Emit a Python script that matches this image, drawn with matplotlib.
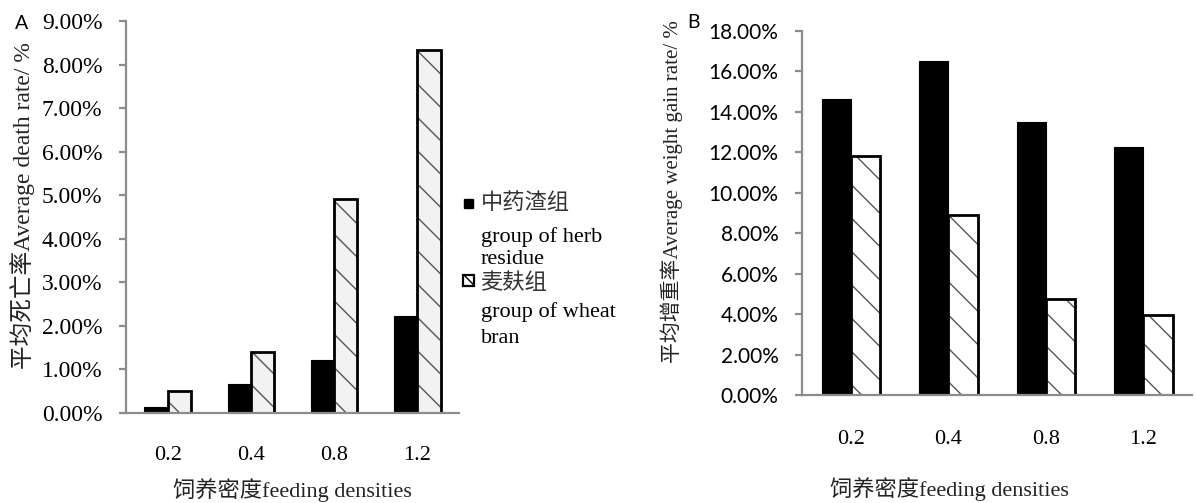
import numpy as np
import matplotlib
matplotlib.use("Agg")
import matplotlib.pyplot as plt
from matplotlib.ticker import FuncFormatter

SERIF = ["Liberation Serif", "Noto Sans CJK SC"]
SANS = ["Lato", "Noto Sans CJK SC"]

densities = ["0.2", "0.4", "0.8", "1.2"]

# average death rate (%), panel A
death_herb = [0.14, 0.67, 1.22, 2.23]
death_bran = [0.50, 1.41, 4.91, 8.33]

# average weight gain rate (%), panel B
gain_herb = [14.63, 16.50, 13.50, 12.24]
gain_bran = [11.80, 8.90, 4.75, 3.96]

herb_label = ["中药渣组", "group of herb", "residue"]
bran_label = ["麦麸组", "group of wheat", "bran"]

W, H = 1196, 503
fig = plt.figure(figsize=(W / 100, H / 100), dpi=100)


def px_axes(left, right, top, bottom):
    return fig.add_axes([left / W, 1 - bottom / H, (right - left) / W, (bottom - top) / H])


def draw_bars(ax, herb, bran, width, bran_fill, tick_pad):
    x = np.arange(len(densities))
    ax.bar(x - width / 2, herb, width, color="black", edgecolor="black", linewidth=0.8)
    # hatch drawn in grey, outline drawn separately in black
    ax.bar(x + width / 2, bran, width, color=bran_fill, edgecolor="#555555",
           linewidth=0, hatch="\\")
    ax.bar(x + width / 2, bran, width, color="none", edgecolor="black", linewidth=2)
    ax.set_xlim(-0.5, len(densities) - 0.5)
    ax.set_xticks(x)
    ax.set_xticklabels(densities, fontfamily=SERIF, fontsize=16)
    ax.tick_params(axis="x", length=0, pad=tick_pad)
    for side in ("top", "right"):
        ax.spines[side].set_visible(False)
    for side in ("left", "bottom"):
        ax.spines[side].set_color("#8c8c8c")
        ax.spines[side].set_linewidth(1.6)
    ax.tick_params(axis="y", length=5, width=1.6, color="#8c8c8c", direction="out")


pct = FuncFormatter(lambda v, p: f"{v:.2f}%")

# panel A
axA = px_axes(126, 459, 21, 413)
draw_bars(axA, death_herb, death_bran, 0.28, "#f2f2f2", 24)
axA.set_ylim(0, 9)
axA.set_yticks(np.arange(0, 10, 1))
axA.yaxis.set_major_formatter(pct)
for t in axA.get_yticklabels():
    t.set_fontfamily(SERIF)
    t.set_fontsize(17)
axA.tick_params(axis="y", pad=12)
axA.set_ylabel("平均死亡率Average death rate/ %", fontfamily=SERIF, fontsize=17,
               color="#222222")
axA.yaxis.set_label_coords(-0.274, 0.53)
axA.set_xlabel("饲养密度feeding densities", fontfamily=SERIF, fontsize=16, color="#222222")
axA.xaxis.set_label_coords(0.5, -0.165)
fig.text(22 / W, 1 - 24 / H, "A", fontfamily=SANS, fontsize=14, ha="center", va="center")

# legend for panel A, laid out by hand
fig.patches.append(plt.Rectangle((464 / W, 1 - 208 / H), 9 / W, 9 / H,
                                 transform=fig.transFigure, facecolor="black",
                                 edgecolor="black"))
fig.patches.append(plt.Rectangle((463 / W, 1 - 286 / H), 11 / W, 11 / H,
                                 transform=fig.transFigure, facecolor="white",
                                 edgecolor="black", linewidth=1.6, hatch="\\\\\\"))
for lines, cjk_y, base_ys in ((herb_label, 204, (242, 264)),
                              (bran_label, 284, (317, 343))):
    fig.text(481 / W, 1 - cjk_y / H, lines[0], fontfamily=SERIF, fontsize=16,
             va="center", ha="left", color="#333333")
    for txt, by in zip(lines[1:], base_ys):
        fig.text(481 / W, 1 - by / H, txt, fontfamily=SERIF, fontsize=16,
                 va="baseline", ha="left")

# panel B
axB = px_axes(802, 1192, 31, 395)
draw_bars(axB, gain_herb, gain_bran, 0.30, "white", 25)
axB.set_ylim(0, 18)
axB.set_yticks(np.arange(0, 19, 2))
axB.yaxis.set_major_formatter(pct)
for t in axB.get_yticklabels():
    t.set_fontfamily(SANS)
    t.set_fontsize(15)
axB.tick_params(axis="y", pad=12)
axB.set_ylabel("平均增重率Average weight gain rate/ %", fontfamily=SERIF, fontsize=15,
               color="#222222")
axB.yaxis.set_label_coords(-0.305, 0.56)
axB.set_xlabel("饲养密度feeding densities", fontfamily=SERIF, fontsize=16, color="#222222")
axB.xaxis.set_label_coords(0.377, -0.225)
fig.text(694 / W, 1 - 23 / H, "B", fontfamily=SANS, fontsize=14, ha="center", va="center")

fig.savefig("out.png", dpi=100)
